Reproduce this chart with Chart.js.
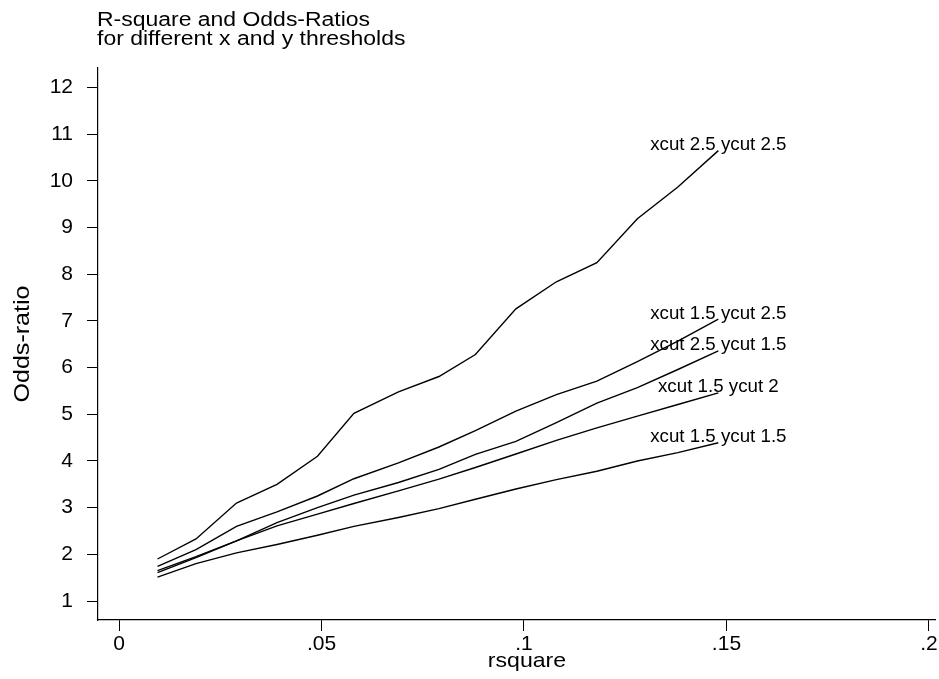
<!DOCTYPE html>
<html>
<head>
<meta charset="utf-8">
<script src="https://cdn.jsdelivr.net/npm/chart.js@4/dist/chart.umd.min.js"></script>
<style>
html, body { margin: 0; padding: 0; background: #fff; }
</style>
</head>
<body>
<canvas id="myChart" width="939" height="679"></canvas>
<script>
const titleLines = ['R-square and Odds-Ratios', 'for different x and y thresholds'];
const xTitle = 'rsquare';
const yTitle = 'Odds-ratio';

const rsquare = [0.0095, 0.019, 0.029, 0.039, 0.049, 0.058, 0.069, 0.079, 0.088, 0.098, 0.108, 0.118, 0.128, 0.138, 0.148];

const seriesNames = ['xcut 2.5 ycut 2.5', 'xcut 1.5 ycut 2.5', 'xcut 2.5 ycut 1.5', 'xcut 1.5 ycut 2', 'xcut 1.5 ycut 1.5'];
const x25y25 = [1.90, 2.33, 3.10, 3.50, 4.10, 5.02, 5.48, 5.81, 6.28, 7.26, 7.84, 8.25, 9.19, 9.87, 10.65];
const x15y25 = [1.74, 2.10, 2.60, 2.91, 3.25, 3.62, 3.96, 4.30, 4.65, 5.07, 5.42, 5.71, 6.13, 6.57, 7.04];
const x25y15 = [1.65, 1.95, 2.29, 2.68, 3.00, 3.27, 3.54, 3.82, 4.14, 4.42, 4.82, 5.24, 5.57, 5.96, 6.36];
const x15y2 = [1.61, 1.93, 2.29, 2.61, 2.86, 3.09, 3.36, 3.61, 3.86, 4.15, 4.44, 4.71, 4.96, 5.21, 5.46];
const x15y15 = [1.51, 1.80, 2.03, 2.21, 2.41, 2.60, 2.79, 2.98, 3.18, 3.40, 3.60, 3.78, 4.00, 4.18, 4.39];

const xTicks = [0, 0.05, 0.1, 0.15, 0.2];
const xTickLabels = ['0', '.05', '.1', '.15', '.2'];
const yTicks = [1, 2, 3, 4, 5, 6, 7, 8, 9, 10, 11, 12];
const yTickLabels = ['1', '2', '3', '4', '5', '6', '7', '8', '9', '10', '11', '12'];

const FONT = '"Liberation Sans", Arial, Helvetica, sans-serif';

// text a bit wider than the font, like the original
function wideText(ctx, text, x, y, size, sx) {
    ctx.save();
    ctx.translate(x, y);
    ctx.scale(sx, 1);
    ctx.font = size + 'px ' + FONT;
    ctx.fillText(text, 0, 0);
    ctx.restore();
}

// titles and the text at the end of each line
const textPlugin = {
    id: 'textPlugin',
    afterDatasetsDraw(chart) {
        const ctx = chart.ctx;
        const area = chart.chartArea;
        const xs = chart.scales.x;
        ctx.save();
        ctx.fillStyle = '#000';

        ctx.textAlign = 'center';
        ctx.textBaseline = 'middle';
        chart.data.datasets.forEach((ds, i) => {
            const pts = chart.getDatasetMeta(i).data;
            const last = pts[pts.length - 1];
            wideText(ctx, ds.label, last.x, last.y - 5.5, 18, 1.04);
        });

        ctx.textAlign = 'left';
        ctx.textBaseline = 'alphabetic';
        wideText(ctx, titleLines[0], area.left - 1, 25.5, 20, 1.148);
        wideText(ctx, titleLines[1], area.left - 1, 44.5, 20, 1.148);

        // x title, centred on the tick range
        ctx.textAlign = 'center';
        const xMid = (xs.getPixelForValue(xTicks[0]) + xs.getPixelForValue(xTicks[xTicks.length - 1])) / 2;
        wideText(ctx, xTitle, xMid + 3, 667, 21, 1.1);

        // y title, rotated
        ctx.translate(29, (area.top + area.bottom) / 2);
        ctx.rotate(-Math.PI / 2);
        wideText(ctx, yTitle, 0, 0, 22, 1.14);
        ctx.restore();
    }
};

function getContext() {
    const series = [x25y25, x15y25, x25y15, x15y2, x15y15];
    const data = {
        datasets: series.map((vals, i) => createDataset(seriesNames[i], vals))
    };
    generateChart(data);
}

function createDataset(text, vals) {
    return {
        label: text,
        data: rsquare.map((x, i) => ({ x: x, y: vals[i] })),
        borderColor: '#000',
        borderWidth: 1.4,
        pointRadius: 0,
        tension: 0,
        fill: false
    };
}

function generateChart(data) {
    const ctx = document.getElementById('myChart');

    new Chart(ctx, {
        type: 'line',
        data: data,
        plugins: [textPlugin],
        options: {
            responsive: false,
            animation: false,
            devicePixelRatio: 1,
            layout: { padding: { top: 68, right: 4, bottom: 0, left: 0 } },
            plugins: {
                legend: { display: false },
                tooltip: { enabled: false }
            },
            scales: {
                x: {
                    type: 'linear',
                    min: -0.0052,
                    max: 0.2015,
                    afterBuildTicks: s => { s.ticks = xTicks.map(v => ({ value: v })); },
                    afterFit: s => { s.height = 59; },
                    grid: { drawOnChartArea: false, drawTicks: true, tickLength: 11, color: '#000' },
                    border: { display: true, color: '#000', width: 1.2 },
                    ticks: {
                        color: '#000',
                        font: { family: FONT, size: 21 },
                        padding: 1,
                        maxRotation: 0,
                        autoSkip: false,
                        callback: (v, i) => xTickLabels[i]
                    },
                    title: { display: false }
                },
                y: {
                    type: 'linear',
                    min: 0.593,
                    max: 12.42,
                    afterBuildTicks: s => { s.ticks = yTicks.map(v => ({ value: v })); },
                    afterFit: s => { s.width = 98; },
                    grid: { drawOnChartArea: false, drawTicks: true, tickLength: 11, color: '#000' },
                    border: { display: true, color: '#000', width: 1.2 },
                    ticks: {
                        color: '#000',
                        font: { family: FONT, size: 21 },
                        padding: 14,
                        autoSkip: false,
                        callback: (v, i) => yTickLabels[i]
                    },
                    title: { display: false }
                }
            }
        }
    });
}

getContext();
</script>
</body>
</html>
